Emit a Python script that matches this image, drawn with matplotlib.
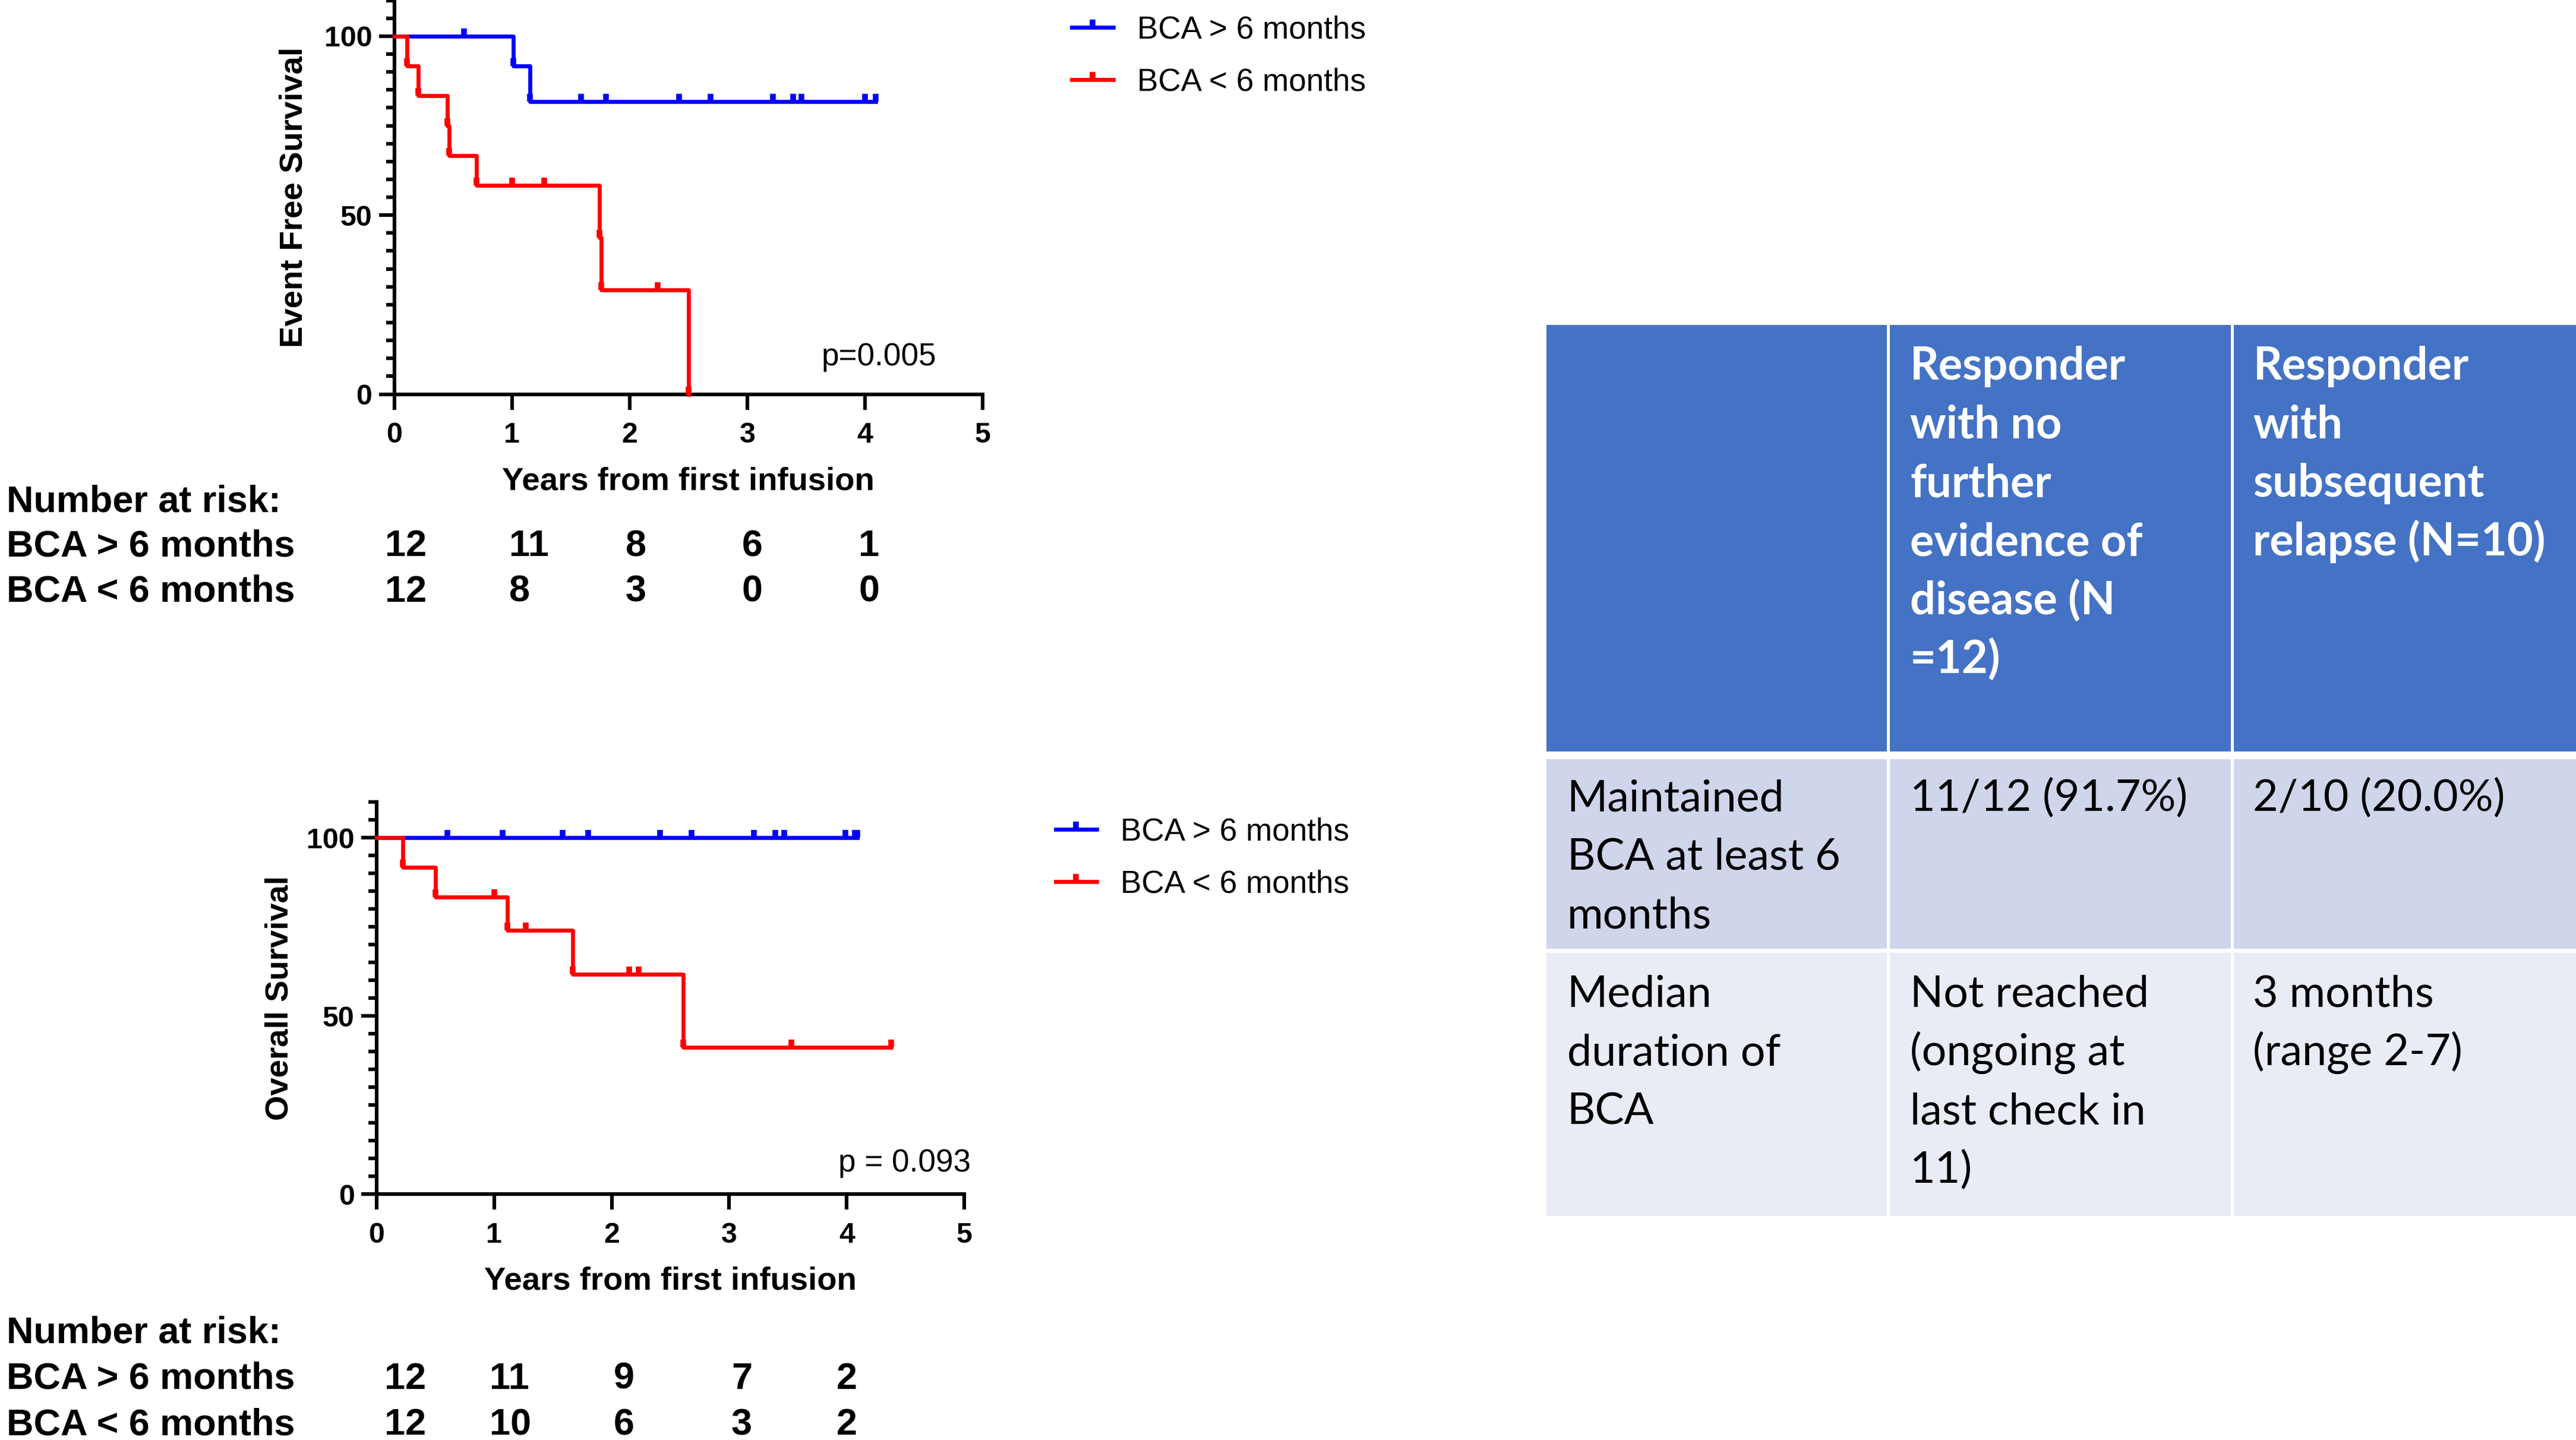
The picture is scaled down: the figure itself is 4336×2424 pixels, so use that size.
import numpy as np
import matplotlib.pyplot as plt
from matplotlib.lines import Line2D
from matplotlib.patches import Rectangle
from matplotlib import transforms

plt.rcParams['font.family'] = ['Liberation Sans', 'DejaVu Sans']

# ---------------- data ----------------
years = [0, 1, 2, 3, 4, 5]
group_labels = ['BCA > 6 months', 'BCA < 6 months']
group_colors = ['#0000FF', '#FF0000']

# event free survival: step times (years), survival (%) after each step, censored times
efs_hi_time = [0, 1.01, 1.155]
efs_hi_surv = [100, 91.7, 81.8]
efs_hi_cens = [0.595, 1.585, 1.80, 2.42, 2.69, 3.22, 3.39, 3.46, 4.00, 4.09]
efs_lo_time = [0, 0.11, 0.205, 0.453, 0.465, 0.70, 1.743, 1.76, 2.50]
efs_lo_surv = [100, 91.7, 83.3, 75.0, 66.7, 58.3, 43.8, 29.2, 0]
efs_lo_cens = [1.00, 1.275, 2.24]

# overall survival
os_hi_time = [0]
os_hi_surv = [100]
os_hi_cens = [0.60, 1.07, 1.58, 1.80, 2.41, 2.68, 3.21, 3.39, 3.47, 3.99, 4.07, 4.09]
os_lo_time = [0, 0.22, 0.50, 1.11, 1.67, 2.61]
os_lo_surv = [100, 91.7, 83.3, 74.1, 61.7, 41.2]
os_lo_cens = [1.00, 1.27, 2.15, 2.23, 3.53, 4.38]

efs_risk_hi = [12, 11, 8, 6, 1]
efs_risk_lo = [12, 8, 3, 0, 0]
os_risk_hi = [12, 11, 9, 7, 2]
os_risk_lo = [12, 10, 6, 3, 2]

efs_p = 'p=0.005'
os_p = 'p = 0.093'

table_header = [[],
                ['Responder', 'with no', 'further', 'evidence of', 'disease (N', '=12)'],
                ['Responder', 'with', 'subsequent', 'relapse (N=10)']]
table_row1 = [['Maintained', 'BCA at least 6', 'months'],
              ['11/12 (91.7%)'],
              ['2/10 (20.0%)']]
table_row2 = [['Median', 'duration of', 'BCA'],
              ['Not reached', '(ongoing at', 'last check in', '11)'],
              ['3 months', '(range 2-7)']]

# ---------------- layout helpers (reference pixels / 2.765) ----------------
S = 2.765
W = 4336 / S
H = 2424 / S


def fx(x):
    return x / W


def fy(y):
    return 1 - y / H


fig = plt.figure(figsize=(4336 / 276.5, 2424 / 276.5), dpi=276.5)
renderer = fig.canvas.get_renderer()


def km(ax, t, s, cens, color):
    t_end = max(max(t), max(cens) if cens else 0)
    ax.step(list(t) + [t_end], list(s) + [s[-1]], where='post', color=color,
            lw=1.75, clip_on=False, zorder=3)
    if len(t) > 1:
        ax.plot(t[1:], s[1:], ls='none', marker=2, ms=3.5, mew=2.5,
                color=color, clip_on=False, zorder=3)
    cs = [s[np.searchsorted(t, c, side='right') - 1] for c in cens]
    ax.plot(cens, cs, ls='none', marker=2, ms=3.5, mew=2.5, color=color,
            clip_on=False, zorder=3)


def style_axis(ax, ylabel, ylab_off, h_px):
    ax.set_xlim(0, 5)
    ax.set_ylim(0, 110)
    ax.spines[['top', 'right']].set_visible(False)
    for sp in ['left', 'bottom']:
        ax.spines[sp].set_linewidth(1.6)
    ax.set_xticks(years)
    ax.set_yticks([0, 50, 100])
    ax.set_yticks(np.arange(0, 111, 5), minor=True)
    ax.tick_params(which='major', length=6.8, width=1.6, labelsize=12.6)
    ax.tick_params(which='minor', length=3.7, width=1.6)
    ax.tick_params(axis='y', pad=2.9)
    ax.tick_params(axis='x', pad=5.4)
    for lbl in ax.get_xticklabels() + ax.get_yticklabels():
        lbl.set_fontweight('bold')
    ax.set_xlabel('Years from first infusion', fontsize=14.2, fontweight='bold')
    ax.xaxis.set_label_coords(0.5, -44 / h_px)
    ax.set_ylabel(ylabel, fontsize=14.2, fontweight='bold')
    ax.yaxis.set_label_coords(-ylab_off / 358, 0.5)


def risk_table(ax, xs, hi, lo, baselines):
    fig.text(fx(3.9), fy(baselines[0]), 'Number at risk:', fontsize=16.4,
             fontweight='bold', va='baseline')
    tr = transforms.blended_transform_factory(ax.transData, fig.transFigure)
    for row, vals, base in zip(group_labels, [hi, lo], baselines[1:]):
        fig.text(fx(3.9), fy(base), row, fontsize=16.4, fontweight='bold',
                 va='baseline')
        for x, v in zip(xs, vals):
            fig.text(x, fy(base), str(v), transform=tr, fontsize=16.4,
                     fontweight='bold', va='baseline', ha='left')


def legend(anchor):
    handles = [Line2D([0], [0], color=c, lw=1.75, marker=2, ms=3.5, mew=2.5)
               for c in group_colors]
    fig.legend(handles, group_labels, loc='upper left', bbox_to_anchor=anchor,
               frameon=False, borderpad=0, borderaxespad=0, handlelength=1.32,
               handletextpad=0.75, labelspacing=0.72, fontsize=13.8)


# ---------------- event free survival ----------------
ax1 = fig.add_axes([fx(240), fy(240), 358.2 / W, 239.8 / H])
km(ax1, efs_hi_time, efs_hi_surv, efs_hi_cens, group_colors[0])
km(ax1, efs_lo_time, efs_lo_surv, efs_lo_cens, group_colors[1])
style_axis(ax1, 'Event Free Survival', 52, 239.8)
ax1.text(3.63, 8.1, efs_p, fontsize=13.8, va='baseline')
legend((fx(652.5), fy(9.3)))
risk_table(ax1, [-0.081, 0.974, 1.964, 2.955, 3.947], efs_risk_hi, efs_risk_lo,
           [311.5, 338.6, 366.2])

# ---------------- overall survival ----------------
ax2 = fig.add_axes([fx(229.3), fy(727), 357.7 / W, 238.7 / H])
km(ax2, os_hi_time, os_hi_surv, os_hi_cens, group_colors[0])
km(ax2, os_lo_time, os_lo_surv, os_lo_cens, group_colors[1])
style_axis(ax2, 'Overall Survival', 50, 238.7)
ax2.text(3.93, 6.3, os_p, fontsize=13.8, va='baseline')
legend((fx(642.5), fy(497.5)))
risk_table(ax2, [0.068, 0.958, 2.017, 3.018, 3.911], os_risk_hi, os_risk_lo,
           [817.5, 845.5, 873.5])

# ---------------- summary table ----------------
tfont = ['Lato', 'DejaVu Sans']


def fit_size(text, target_px, weight):
    t = fig.text(0, 0, text, fontsize=20, fontweight=weight, family=tfont)
    w = t.get_window_extent(renderer).width
    t.remove()
    return 20 * target_px * S / w


hdr_size = fit_size('relapse (N=10)', 178, 'bold')
body_size = fit_size('11/12 (91.7%)', 169, 'normal')

col_edges = [941.5, 1149.5, 1358.8, W]
row_spans = [(197.7, 457.5), (462.3, 577.7), (580.2, 740.4)]
row_colors = ['#4472C4', '#CFD5EA', '#E9EBF5']
text_x = [953.9, 1162.8, 1371.6]
first_base = [231.0, 493.7, 612.8]
line_step = 35.75

for r, (rows, (y0, y1), col) in enumerate(zip([table_header, table_row1, table_row2],
                                               row_spans, row_colors)):
    for c in range(3):
        x0 = col_edges[c] + (0 if c == 0 else 0.9)
        x1 = col_edges[c + 1] - (0.9 if c < 2 else 0)
        fig.add_artist(Rectangle((fx(x0), fy(y1)), (x1 - x0) / W, (y1 - y0) / H,
                                 transform=fig.transFigure, facecolor=col,
                                 edgecolor='none'))
        for i, line in enumerate(rows[c]):
            fig.text(fx(text_x[c]), fy(first_base[r] + i * line_step), line,
                     family=tfont, fontsize=hdr_size if r == 0 else body_size,
                     fontweight='bold' if r == 0 else 'normal',
                     color='white' if r == 0 else 'black', va='baseline')

fig.savefig('out.png', dpi=276.5)
